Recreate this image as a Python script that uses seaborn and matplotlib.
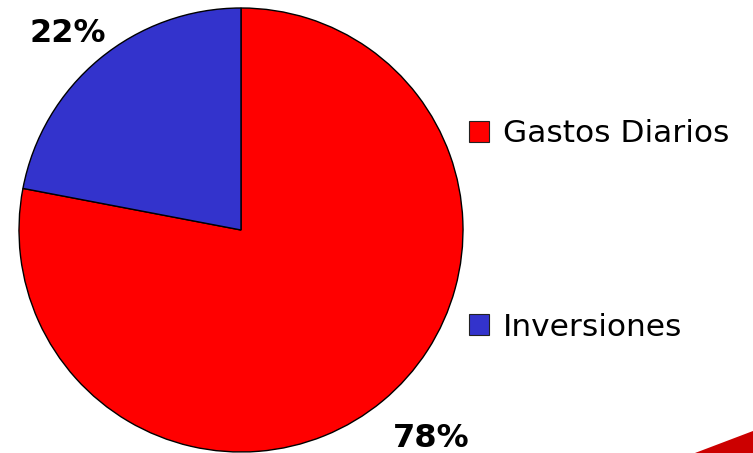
import numpy as np
import matplotlib.pyplot as plt
import seaborn as sns
from matplotlib.patches import Polygon, Patch

categorias = ['Gastos Diarios', 'Inversiones']
porcentajes = [78, 22]
colores = ['#FF0000', '#3333CC']
etiquetas = ['78%', '22%']

sns.set_theme(style='white')
plt.rcParams['font.family'] = ['DejaVu Sans']

W, H = 753, 453
fig = plt.figure(figsize=(W / 100, H / 100), dpi=100)
fig.patch.set_facecolor('white')

# pie area in pixels: left 19, top 8, size 444
ax = fig.add_axes([19 / W, 1 - 452 / H, 444 / W, 444 / H])
wedges, _ = ax.pie(porcentajes, colors=colores, startangle=90, counterclock=False,
                   wedgeprops=dict(edgecolor='black', linewidth=1))
ax.set_aspect('equal')
ax.set_xlim(-1.0, 1.0)
ax.set_ylim(-1.0, 1.0)

# labels sit outside the wedges, a bit shifted like in the original slide
pos_etiqueta = [(0.855, -0.94), (-0.78, 0.885)]
for (x, y), t in zip(pos_etiqueta, etiquetas):
    ax.text(x, y, t, ha='center', va='center', fontsize=23, fontweight='bold',
            color='black', clip_on=False)

handles = [Patch(facecolor=c, edgecolor='#222222', linewidth=0.8) for c in colores]
leg = fig.legend(handles, categorias, loc='center left', bbox_to_anchor=(469 / W, 1 - 230.5 / H),
                 frameon=False, fontsize=22.5, labelspacing=5.25, handlelength=0.64,
                 handleheight=0.64, handletextpad=0.45, borderpad=0, borderaxespad=0)
for t in leg.get_texts():
    t.set_color('black')

# decorative red swoosh in the corner
fig.patches.append(Polygon([(695 / W, 0), (1, 22 / H), (1, 0)], closed=True,
                           transform=fig.transFigure, facecolor='#CC0000', edgecolor='none'))

fig.savefig('out.png', dpi=100, facecolor='white')
